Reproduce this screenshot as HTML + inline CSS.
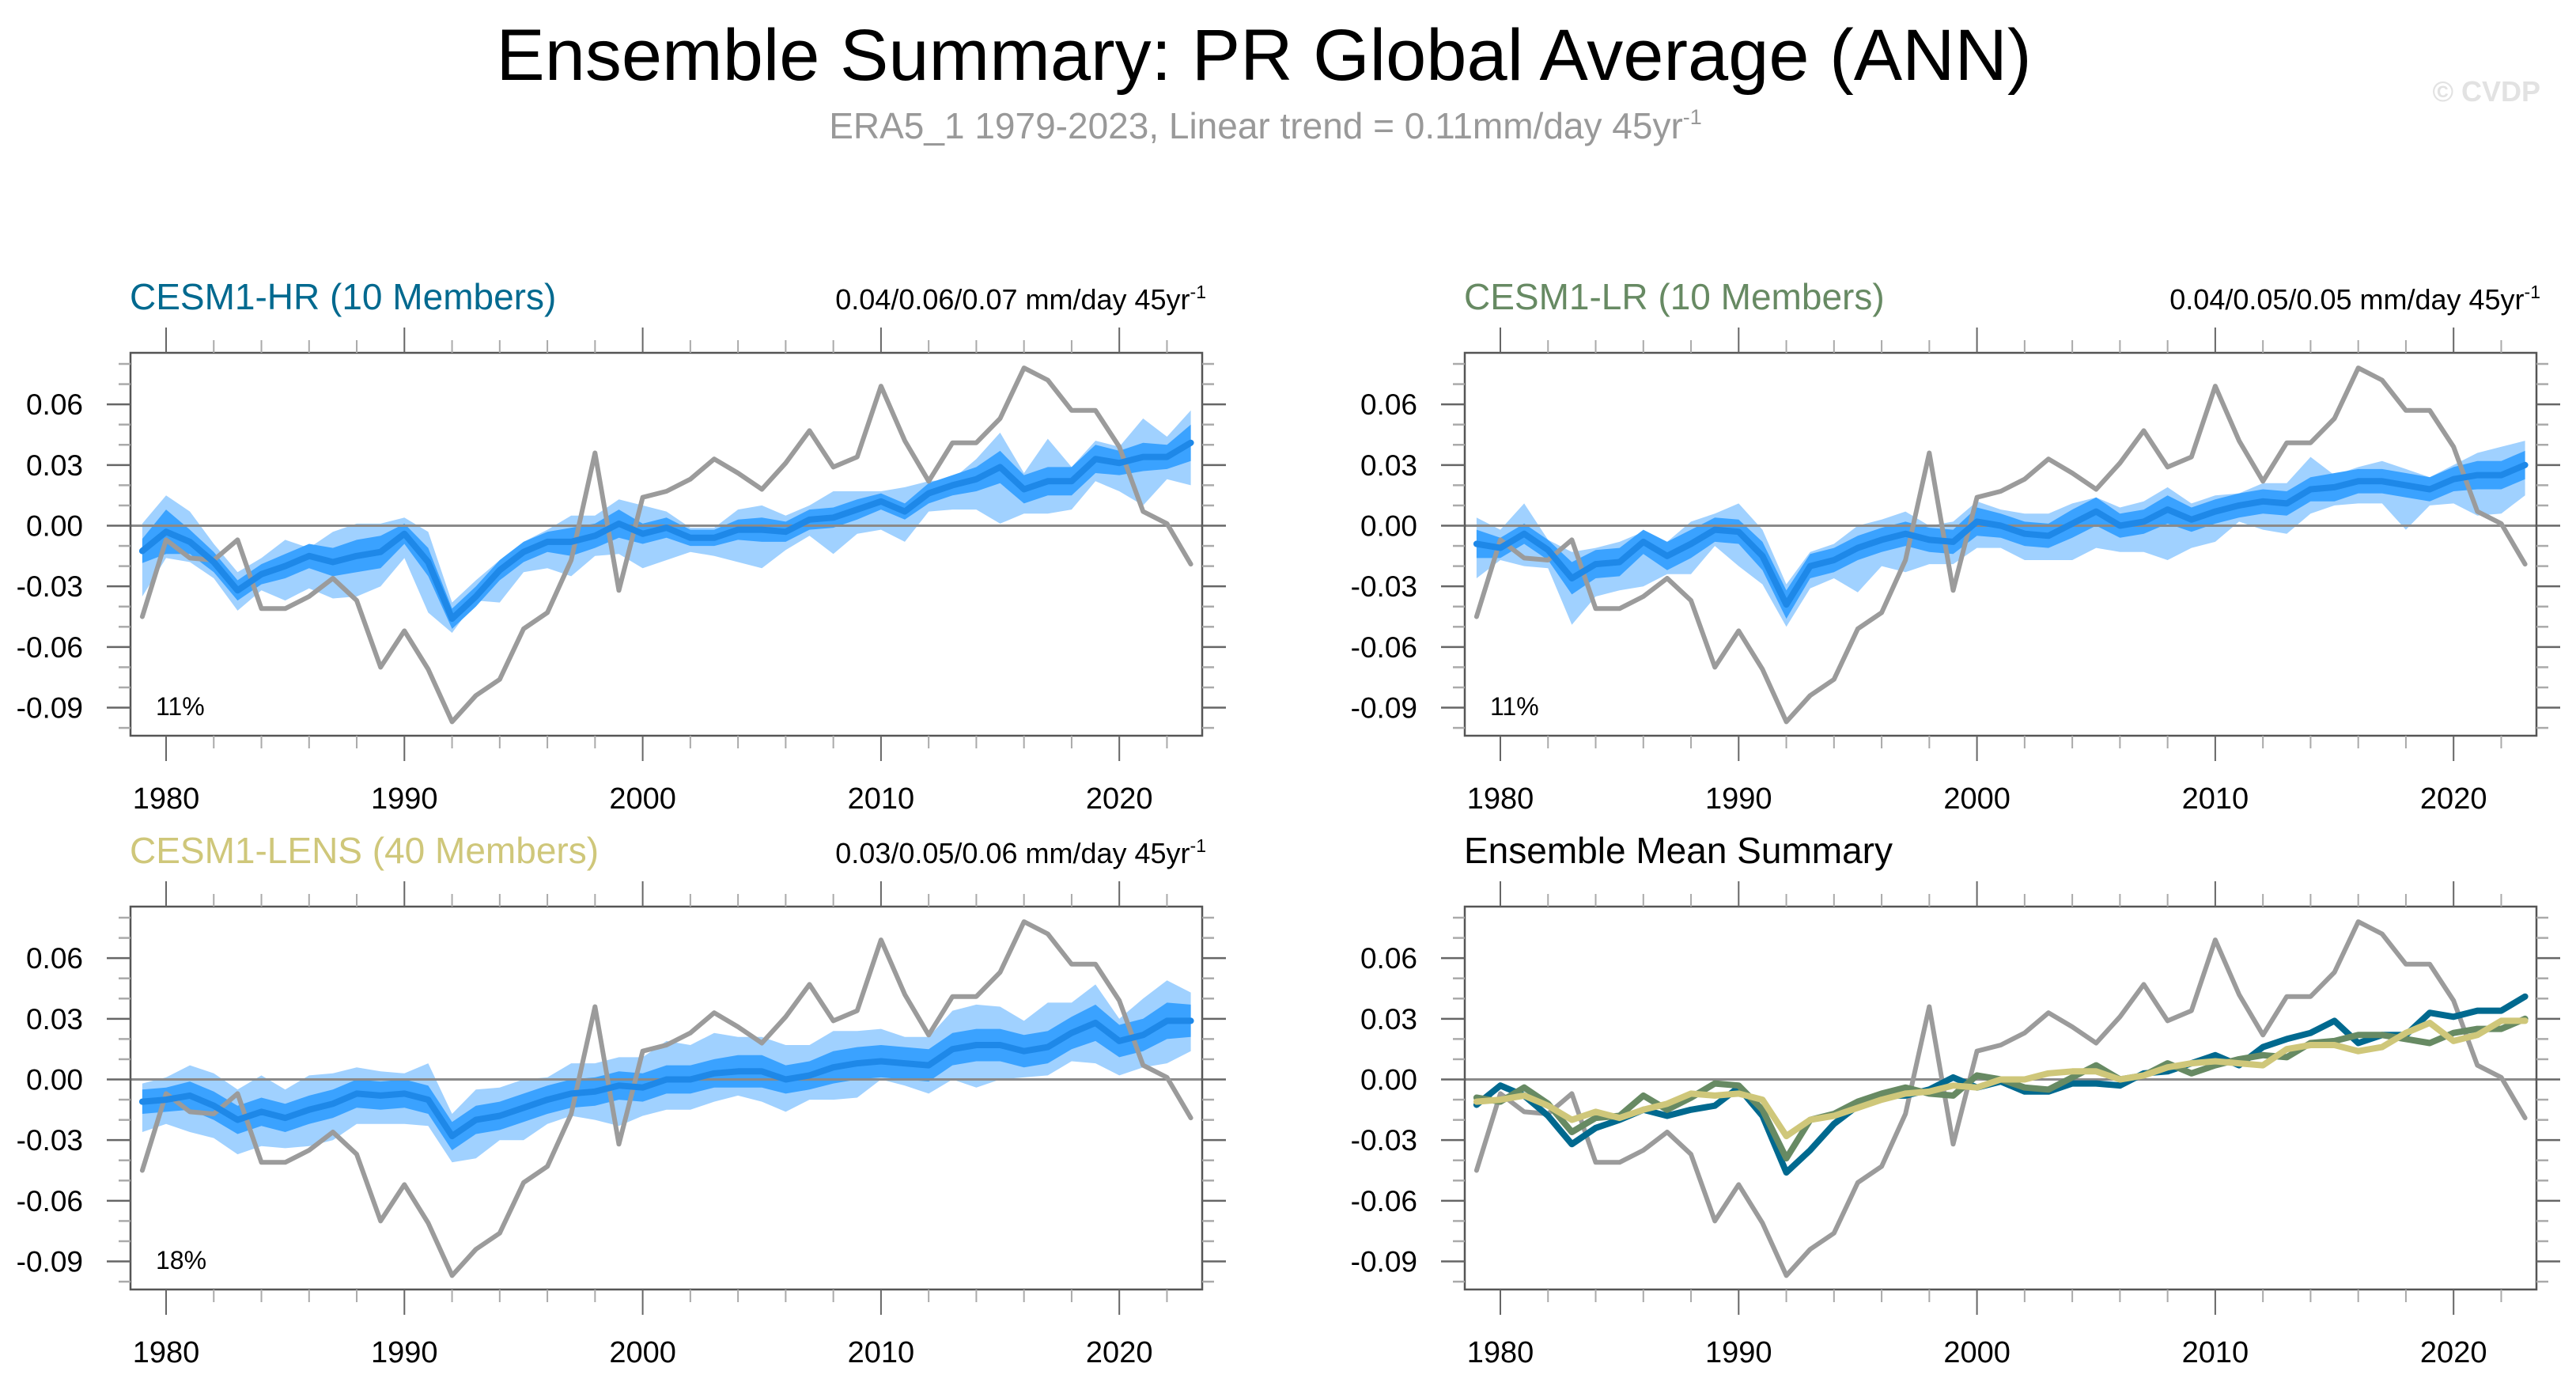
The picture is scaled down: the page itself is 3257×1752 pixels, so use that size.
<!DOCTYPE html>
<html><head><meta charset="utf-8">
<style>
html,body{margin:0;padding:0;background:#fff;}
svg{display:block;font-family:"Liberation Sans",Arial,sans-serif;}
</style></head>
<body>
<svg id="chart" width="3257" height="1752" viewBox="0 0 3257 1752" xmlns="http://www.w3.org/2000/svg">
<rect width="3257" height="1752" fill="#fff"/>
<text x="1598" y="101" font-size="92" text-anchor="middle" fill="#000">Ensemble Summary: PR Global Average (ANN)</text>
<text x="1600" y="175" font-size="46" text-anchor="middle" fill="#999">ERA5_1 1979-2023, Linear trend = 0.11mm/day 45yr<tspan dy="-18" font-size="27">-1</tspan></text>
<text x="3212" y="128" font-size="36" font-weight="bold" text-anchor="end" fill="#e2e2e2">© CVDP</text>
<g id="panels"></g>
</svg>
<script>
const years = [];
for (let y = 1979; y <= 2023; y++) years.push(y);
const obs = [-0.045,-0.007,-0.016,-0.017,-0.007,-0.041,-0.041,-0.035,-0.026,-0.037,-0.070,-0.052,-0.071,-0.097,-0.084,-0.076,-0.051,-0.043,-0.017,0.036,-0.032,0.014,0.017,0.023,0.033,0.026,0.018,0.031,0.047,0.029,0.034,0.069,0.042,0.022,0.041,0.041,0.053,0.078,0.072,0.057,0.057,0.039,0.007,0.001,-0.019];
const hrMean = [-0.0125,-0.003,-0.008,-0.018,-0.032,-0.024,-0.020,-0.015,-0.018,-0.015,-0.013,-0.004,-0.018,-0.046,-0.035,-0.022,-0.013,-0.008,-0.008,-0.005,0.001,-0.004,-0.001,-0.006,-0.006,-0.002,-0.002,-0.003,0.003,0.004,0.008,0.012,0.007,0.016,0.020,0.023,0.029,0.018,0.022,0.022,0.033,0.031,0.034,0.034,0.041];
const hrHi = [0.001,0.015,0.007,-0.009,-0.023,-0.016,-0.007,-0.011,-0.003,0.001,0.001,0.004,-0.003,-0.038,-0.027,-0.017,-0.008,-0.002,0.005,0.005,0.013,0.010,0.007,-0.001,-0.001,0.008,0.010,0.005,0.010,0.017,0.017,0.017,0.019,0.022,0.023,0.033,0.046,0.026,0.043,0.029,0.042,0.039,0.053,0.044,0.057];
const hrLo = [-0.035,-0.016,-0.018,-0.026,-0.042,-0.032,-0.037,-0.031,-0.036,-0.035,-0.030,-0.016,-0.043,-0.053,-0.037,-0.038,-0.023,-0.021,-0.025,-0.015,-0.014,-0.021,-0.017,-0.013,-0.015,-0.018,-0.021,-0.012,-0.005,-0.014,-0.004,-0.002,-0.008,0.007,0.008,0.008,0.001,0.006,0.006,0.008,0.022,0.017,0.010,0.023,0.020];
const hrIqr = [0.012,0.022,0.012,0.010,0.010,0.010,0.012,0.012,0.014,0.016,0.016,0.010,0.014,0.010,0.010,0.010,0.010,0.010,0.014,0.012,0.014,0.010,0.010,0.008,0.008,0.010,0.012,0.010,0.010,0.010,0.010,0.008,0.008,0.010,0.010,0.012,0.016,0.014,0.014,0.014,0.014,0.012,0.014,0.012,0.018];
const lrMean = [-0.009,-0.011,-0.004,-0.012,-0.026,-0.019,-0.018,-0.008,-0.015,-0.009,-0.002,-0.003,-0.015,-0.039,-0.020,-0.017,-0.011,-0.007,-0.004,-0.007,-0.008,0.002,0.000,-0.004,-0.005,0.001,0.007,0.000,0.002,0.008,0.003,0.007,0.010,0.012,0.011,0.018,0.019,0.022,0.022,0.020,0.018,0.023,0.025,0.025,0.030];
const lrHi = [0.004,-0.002,0.011,-0.007,-0.013,-0.011,-0.008,-0.003,-0.008,0.002,0.006,0.011,-0.002,-0.029,-0.013,-0.009,0.000,0.003,0.007,0.000,0.002,0.012,0.008,0.006,0.006,0.011,0.014,0.009,0.012,0.019,0.011,0.015,0.016,0.021,0.021,0.034,0.025,0.029,0.032,0.028,0.024,0.030,0.036,0.039,0.042];
const lrLo = [-0.026,-0.017,-0.020,-0.021,-0.049,-0.035,-0.032,-0.030,-0.024,-0.024,-0.010,-0.020,-0.029,-0.050,-0.031,-0.026,-0.033,-0.020,-0.023,-0.019,-0.019,-0.011,-0.011,-0.017,-0.017,-0.017,-0.011,-0.013,-0.013,-0.017,-0.011,-0.008,0.002,-0.002,-0.004,0.006,0.010,0.011,0.011,-0.002,0.010,0.011,0.005,0.006,0.015];
const lrIqr = [0.014,0.010,0.010,0.010,0.016,0.014,0.014,0.012,0.014,0.014,0.012,0.012,0.014,0.014,0.012,0.012,0.012,0.012,0.012,0.012,0.012,0.014,0.012,0.012,0.012,0.014,0.014,0.012,0.012,0.014,0.012,0.012,0.012,0.012,0.012,0.012,0.014,0.012,0.012,0.012,0.012,0.012,0.014,0.014,0.014];
const lensMean = [-0.011,-0.010,-0.008,-0.013,-0.020,-0.016,-0.019,-0.015,-0.012,-0.007,-0.008,-0.007,-0.010,-0.028,-0.020,-0.018,-0.014,-0.010,-0.007,-0.006,-0.003,-0.004,0.000,0.000,0.003,0.004,0.004,0.000,0.002,0.006,0.008,0.009,0.008,0.007,0.015,0.017,0.017,0.014,0.016,0.023,0.028,0.019,0.022,0.029,0.029];
const lensHi = [-0.002,0.001,0.007,0.003,-0.005,0.002,-0.005,0.002,0.003,0.006,0.004,0.003,0.008,-0.017,-0.005,-0.004,0.000,0.001,0.008,0.008,0.011,0.011,0.019,0.017,0.023,0.021,0.021,0.017,0.017,0.024,0.024,0.025,0.021,0.021,0.034,0.037,0.036,0.029,0.038,0.038,0.047,0.030,0.040,0.049,0.043];
const lensLo = [-0.026,-0.022,-0.026,-0.029,-0.037,-0.033,-0.034,-0.033,-0.030,-0.022,-0.022,-0.022,-0.023,-0.041,-0.039,-0.030,-0.030,-0.022,-0.018,-0.020,-0.023,-0.018,-0.015,-0.015,-0.011,-0.008,-0.011,-0.016,-0.010,-0.010,-0.009,0.000,-0.003,-0.007,0.000,-0.004,0.000,0.001,0.002,0.009,0.008,0.002,0.006,0.008,0.014];
const lensIqr = [0.012,0.012,0.014,0.014,0.014,0.014,0.014,0.014,0.014,0.014,0.014,0.014,0.014,0.014,0.014,0.014,0.014,0.014,0.014,0.014,0.014,0.014,0.014,0.014,0.014,0.016,0.016,0.014,0.014,0.016,0.016,0.016,0.016,0.016,0.016,0.016,0.016,0.016,0.016,0.016,0.018,0.016,0.016,0.018,0.016];
const yTicks = [-0.09,-0.06,-0.03,0.00,0.03,0.06];
const yTickLabels = ["-0.09","-0.06","-0.03","0.00","0.03","0.06"];
const xTicks = [1980,1990,2000,2010,2020];
const xTickLabels = ["1980","1990","2000","2010","2020"];

const NS = "http://www.w3.org/2000/svg";
const root = document.getElementById("panels");
function el(tag, attrs, parent) {
  const e = document.createElementNS(NS, tag);
  for (const k in attrs) e.setAttribute(k, attrs[k]);
  (parent || root).appendChild(e);
  return e;
}
function panel(cfg) {
  const g = el("g", {});
  
  
  const L = cfg.left, R = cfg.left + 1355, T = cfg.top, B = cfg.top + 484;
  const zeroY = cfg.top + 218.5, ppu = 2556;
  const xs = yr => L + 45 + (yr - 1980) * 30.13;
  const ys = v => zeroY - v * ppu;
  const t = el("text", {x: L - 1, y: T - 55, "font-size": 46, fill: cfg.titleColor}, g);
  t.textContent = cfg.title;
  
  
  if (cfg.trend) {
    const tr = el("text", {x: R + 5, y: T - 55, "font-size": 36, "text-anchor": "end", fill: "#000"}, g);
    
    
    tr.appendChild(document.createTextNode(cfg.trend));
    const sp = el("tspan", {dy: -14, "font-size": 23}, tr); sp.textContent = "-1";
  }
  const band = (hi, lo, fill, nm) => {
    let d = "";
    years.forEach((y, i) => { d += (i ? "L" : "M") + xs(y).toFixed(1) + "," + ys(hi[i]).toFixed(1); });
    for (let i = years.length - 1; i >= 0; i--) d += "L" + xs(years[i]).toFixed(1) + "," + ys(lo[i]).toFixed(1);
    const p = el("path", {d: d + "Z", fill: fill}, g);
    
    
  };
  const line = (vals, color, w, nm) => {
    const d = years.map((y, i) => (i ? "L" : "M") + xs(y).toFixed(1) + "," + ys(vals[i]).toFixed(1)).join("");
    const p = el("path", {d: d, fill: "none", stroke: color, "stroke-width": w, "stroke-linejoin": "round", "stroke-linecap": "round"}, g);
    
    
  };
  if (cfg.mean) {
    band(cfg.hi, cfg.lo, "#a0d1ff", "range-band");
    band(cfg.mean.map((m, i) => m + cfg.iqr[i] / 2), cfg.mean.map((m, i) => m - cfg.iqr[i] / 2), "#3aa2ff", "iqr-band");
  }
  const z = el("line", {x1: L, x2: R, y1: ys(0), y2: ys(0), stroke: "#8a8a8a", "stroke-width": 3}, g);
  
  
  line(obs, "#9b9b9b", 6, "observed-line");
  if (cfg.mean) line(cfg.mean, "#1e88e8", 8, "ensemble-mean-line");
  if (cfg.summary) {
    line(hrMean, "#00698f", 8, "hr-mean-line");
    line(lrMean, "#678a63", 8, "lr-mean-line");
    line(lensMean, "#cfc77a", 8, "lens-mean-line");
  }
  const fr = el("rect", {x: L, y: T, width: R - L, height: B - T, fill: "none", stroke: "#555", "stroke-width": 2.5}, g);
  
  
  for (let k = -10; k <= 8; k++) {
    const v = k / 100, yy = ys(v), maj = k % 3 === 0, len = maj ? 30 : 15;
    el("line", {x1: L - len, x2: L, y1: yy, y2: yy, stroke: maj ? "#666" : "#aaa", "stroke-width": 2.5}, g);
    el("line", {x1: R, x2: R + len, y1: yy, y2: yy, stroke: maj ? "#666" : "#aaa", "stroke-width": 2.5}, g);
  }
  yTicks.forEach((v, i) => {
    const tl = el("text", {x: L - 60, y: ys(v) + 13, "font-size": 37, "text-anchor": "end", fill: "#000"}, g);
    tl.textContent = yTickLabels[i];
    
    
  });
  for (let yr = 1980; yr <= 2022; yr += 2) {
    const xx = xs(yr), maj = yr % 10 === 0, len = maj ? 32 : 16;
    el("line", {x1: xx, x2: xx, y1: T - len, y2: T, stroke: maj ? "#666" : "#aaa", "stroke-width": 2}, g);
    el("line", {x1: xx, x2: xx, y1: B, y2: B + len, stroke: maj ? "#666" : "#aaa", "stroke-width": 2}, g);
  }
  xTicks.forEach((yr, i) => {
    const tl = el("text", {x: xs(yr), y: B + 92, "font-size": 38, "text-anchor": "middle", fill: "#000"}, g);
    tl.textContent = xTickLabels[i];
    
    
  });
  if (cfg.pct) {
    const pc = el("text", {x: L + 32, y: B - 26, "font-size": 32, fill: "#000"}, g);
    pc.textContent = cfg.pct;
    
    
  }
}
panel({name: "cesm1-hr-panel", left: 165, top: 446, title: "CESM1-HR (10 Members)", titleColor: "#00698f", trend: "0.04/0.06/0.07 mm/day 45yr", mean: hrMean, hi: hrHi, lo: hrLo, iqr: hrIqr, pct: "11%"});
panel({name: "cesm1-lr-panel", left: 1852, top: 446, title: "CESM1-LR (10 Members)", titleColor: "#678a63", trend: "0.04/0.05/0.05 mm/day 45yr", mean: lrMean, hi: lrHi, lo: lrLo, iqr: lrIqr, pct: "11%"});
panel({name: "cesm1-lens-panel", left: 165, top: 1146, title: "CESM1-LENS (40 Members)", titleColor: "#cfc77a", trend: "0.03/0.05/0.06 mm/day 45yr", mean: lensMean, hi: lensHi, lo: lensLo, iqr: lensIqr, pct: "18%"});
panel({name: "ensemble-mean-summary-panel", left: 1852, top: 1146, title: "Ensemble Mean Summary", titleColor: "#000", summary: true});
</script>
</body></html>
